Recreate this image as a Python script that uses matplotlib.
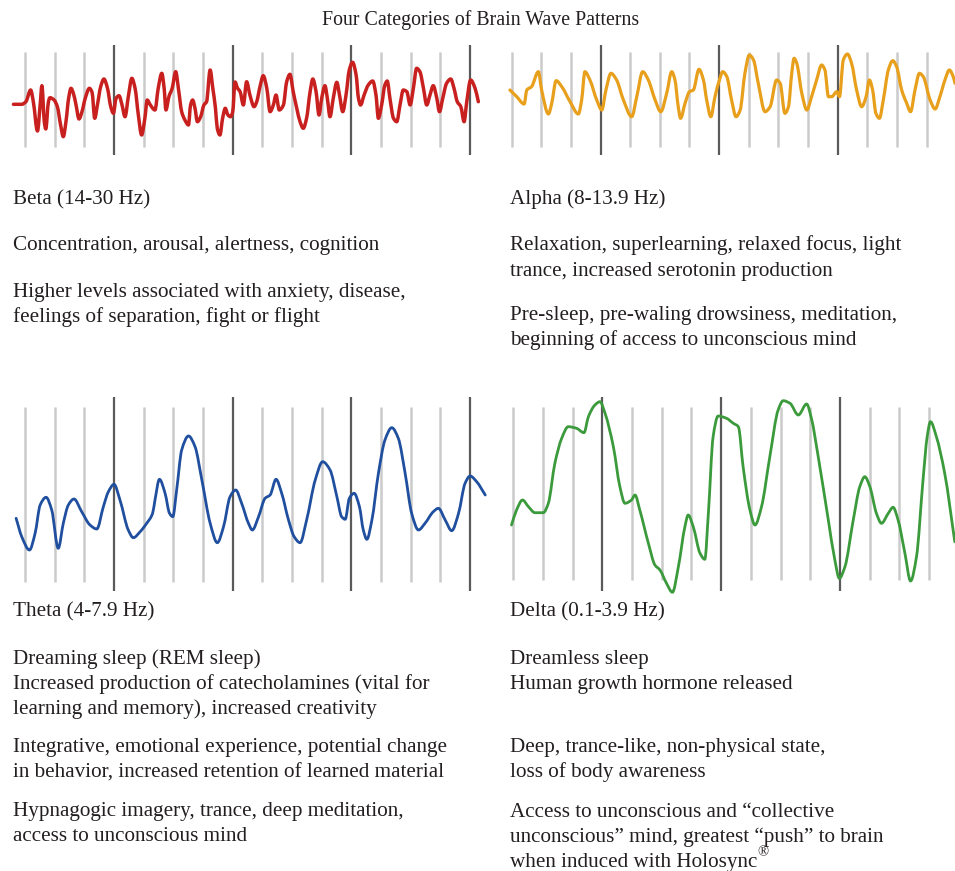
import matplotlib
matplotlib.use("Agg")
import matplotlib.pyplot as plt
from matplotlib.path import Path
from matplotlib.patches import PathPatch
import numpy as np

# ---------------- data (time in grid divisions, amplitude in arbitrary units) -------------
beta_t = [-0.39, -0.11, 0.03, 0.19, 0.28, 0.42, 0.51, 0.57, 0.65, 0.70, 0.79, 0.84, 0.98, 1.09,
          1.20, 1.29, 1.38, 1.47, 1.55, 1.63, 1.72, 1.82, 1.92, 2.03, 2.17, 2.26, 2.35, 2.44,
          2.55, 2.66, 2.78, 2.89, 2.98, 3.07, 3.17, 3.27, 3.37, 3.49, 3.60, 3.71, 3.82, 3.93,
          4.04, 4.12, 4.21, 4.38, 4.49, 4.61, 4.69, 4.75, 4.85, 4.96, 5.08, 5.17, 5.28, 5.39,
          5.51, 5.58, 5.65, 5.73, 5.81, 5.92, 6.03, 6.12, 6.24, 6.33, 6.42, 6.48, 6.57, 6.66,
          6.75, 6.84, 6.93, 7.00, 7.08, 7.16, 7.25, 7.36, 7.47, 7.58, 7.72, 7.81, 7.92, 8.03,
          8.15, 8.26, 8.37, 8.46, 8.57, 8.71, 8.82, 8.93, 9.04, 9.16, 9.27, 9.38, 9.49, 9.61,
          9.70, 9.81, 9.91, 10.00, 10.11, 10.19, 10.28, 10.39, 10.51, 10.60, 10.71, 10.82,
          10.93, 11.04, 11.16, 11.24, 11.31, 11.43, 11.57, 11.72, 11.83, 11.91, 12.02, 12.13,
          12.21, 12.30, 12.42, 12.53, 12.64, 12.75, 12.87, 12.98, 13.09, 13.20, 13.31, 13.43,
          13.54, 13.65, 13.76, 13.88, 13.97, 14.08, 14.21, 14.35, 14.46, 14.57, 14.69, 14.80,
          14.89, 15.02, 15.17, 15.28]
beta_v = [-4.3, -4.3, -1.7, 10, -1.7, -31, -5, 14.3, -21.7, -29, -1.7, 2.3, 0, -6.7,
          -25, -36.7, -21.7, 1.7, 11.7, 6.7, -5, -19, -11.7, 1.7, 11.7, 7.7, -18.3, -5,
          13.3, 21, 11.7, -6.7, -13.3, 1.7, 4.3, -5, -16.7, 5, 21.7, 11.7, -15, -35,
          -18.3, 0, -4.3, -10, 11.7, 26.7, 11.7, -10, 3.3, 11.7, 28.3, 11.7, -11.7, -20,
          -25, -5, 0, -8.3, -21.7, -16.7, -5, -1.7, 30, 11.7, -8.3, -28.3, -35, -18.3,
          -8.3, -15, -16.7, -12, 18, 12, 8.3, -5, 18.3, 5, -6.7, -1.7, 13.3, 24.3,
          11.7, -11.7, -5, 5, -10, -5, 18.3, 25.7, 8.3, -8.3, -21.7, -28.3, -18.3, 8.3,
          21, 8.3, -15, 1.7, 14.3, 1.7, -16.7, 1.7, 17.7, 5, -11.7, 5,
          30, 37.7, 25, 1.7, -5, 5, 15, 19, 5, -18.3, -5, 15,
          19, 1.7, -18.3, -21.7, -5, 10, 8.3, -5, 11.7, 31.7, 28.3, 11.7,
          -5, 5, 14.3, 1.7, -11.7, 1.7, 16.7, 21, 11.7, -1.7, -6.7, -21.7,
          -1.7, 20, 11.7, -1.7]

alpha_t = [-0.06, 0.17, 0.42, 0.51, 0.67, 0.90, 1.01, 1.24, 1.35, 1.50, 1.69, 1.97, 2.25, 2.36,
           2.47, 2.64, 2.87, 3.04, 3.18, 3.35, 3.54, 3.77, 4.05, 4.22, 4.42, 4.61, 4.84, 5.03,
           5.23, 5.40, 5.51, 5.62, 5.70, 5.85, 6.00, 6.13, 6.32, 6.47, 6.58, 6.72, 6.86, 7.01,
           7.12, 7.26, 7.42, 7.57, 7.71, 7.87, 8.02, 8.16, 8.32, 8.55, 8.72, 8.94, 9.06, 9.22,
           9.34, 9.45, 9.53, 9.62, 9.79, 9.96, 10.12, 10.29, 10.46, 10.57, 10.69, 10.80, 10.97,
           11.06, 11.19, 11.33, 11.47, 11.64, 11.81, 11.96, 12.07, 12.18, 12.29, 12.41, 12.54,
           12.71, 12.86, 12.99, 13.16, 13.33, 13.46, 13.61, 13.76, 13.89, 14.12, 14.29, 14.45,
           14.62, 14.77, 14.90, 14.96]
alpha_v = [10, 3.3, -4, 10, 13.3, 28.3, 10, -14, -3.3, 19.3, 13.3, -1.7, -14, 0,
           28.3, 20, 0, -10, 10, 26.7, 20, 0, -16.7, 3.3, 28.3, 20, 0, -11.7,
           6.7, 28.3, 20, -6.7, -18.3, -3.3, 8.3, 10, 30.7, 20, 0, -16.7, 3.3, 20,
           28.3, 23.3, 0, -16.7, -10, 26.7, 45, 40, 16.7, -11.7, -6.7, 20, 16.7, -13.3,
           -6.7, 26.7, 41.7, 36.7, 6.7, -10, 3.3, 20, 35, 30, 3.3, 3.3, 8.3,
           3.3, 40, 46, 36.7, 10, -6.7, 3.3, 20, 10, -13.3, -18.3, 0,
           30, 39.3, 33.3, 10, -3.3, -11.7, 10, 26.7, 23.3, 0, -9, 3.3,
           20, 30, 23.3, 16.7]

theta_t = [-0.30, -0.11, 0.15, 0.34, 0.51, 0.71, 0.90, 1.12, 1.29, 1.46, 1.65, 1.91, 2.19, 2.42,
           2.64, 2.81, 3.00, 3.20, 3.48, 3.65, 3.88, 4.10, 4.30, 4.38, 4.53, 4.72, 4.87, 4.98,
           5.11, 5.28, 5.51, 5.73, 5.96, 6.24, 6.48, 6.69, 6.91, 7.10, 7.30, 7.53, 7.66, 7.87,
           8.09, 8.26, 8.46, 8.65, 8.88, 9.07, 9.27, 9.49, 9.78, 10.03, 10.28, 10.51, 10.67,
           10.79, 10.93, 11.09, 11.27, 11.40, 11.52, 11.69, 11.91, 12.13, 12.36, 12.58, 12.81,
           13.03, 13.26, 13.48, 13.76, 13.93, 14.16, 14.38, 14.61, 14.83, 15.00, 15.22, 15.51]
theta_v = [-38.3, -56.7, -70, -53.3, -25, -17.3, -30, -68.3, -43.3, -25, -19, -31.7, -45, -49,
           -26.7, -11.7, -4.3, -20, -50, -57.7, -51.7, -43.3, -33.3, -20, 0.7, -13.3, -33.3, -36.7,
           -10, 30, 44, 33.3, 0, -43.3, -62.7, -46.7, -16.7, -10, -23.3, -43.3, -50, -36.7,
           -18.3, -15, 0.7, -13.3, -40, -56.7, -62.7, -40, 0, 18.3, 10, -16.7, -36.7,
           -39.3, -18.3, -13.3, -26.7, -50, -59.3, -40, 6.7, 40, 52.3, 41.7, 6.7,
           -33.3, -50, -43.3, -31.7, -28.3, -40, -50.7, -33.3, -3.3, 4, -1.7, -15]

delta_t = [-0.06, 0.11, 0.31, 0.51, 0.73, 1.01, 1.18, 1.40, 1.63, 1.85, 2.13, 2.38, 2.53, 2.75,
           2.92, 3.09, 3.37, 3.59, 3.76, 3.98, 4.10, 4.26, 4.55, 4.77, 4.94, 5.16, 5.36, 5.56,
           5.78, 5.89, 6.06, 6.29, 6.45, 6.57, 6.73, 6.90, 7.18, 7.41, 7.58, 7.74, 7.97, 8.14,
           8.36, 8.64, 8.92, 9.09, 9.32, 9.60, 9.88, 10.04, 10.27, 10.61, 10.83, 10.98, 11.17,
           11.45, 11.67, 11.84, 12.01, 12.23, 12.40, 12.63, 12.79, 12.96, 13.19, 13.38, 13.58,
           13.80, 13.94, 14.05, 14.25, 14.53, 14.87]
delta_v = [-45, -30, -20, -26.7, -32.7, -32.7, -23.3, 16.7, 41.7, 53.3, 51.7, 47.3, 63.3, 75,
           78.3, 66.7, 33.3, -6.7, -23.3, -20, -15, -30, -63.3, -85, -90, -103.3, -112.3, -86.7,
           -46.7, -35, -46.7, -73.3, -79.3, -33.3, 43.3, 64, 61.7, 56.7, 53.3, 13.3, -30, -45,
           -26.7, 23.3, 70, 79.3, 76.7, 65, 76, 61.7, 23.3, -40, -80, -98.3, -86.7,
           -40, -6.7, 3.3, -6.7, -33.3, -43.3, -33.3, -27.3, -40, -73.3, -101, -76.7,
           0, 43.3, 58.3, 43.3, 6.7, -61.7]

title = "Four Categories of Brain Wave Patterns"
band_names = ["Beta (14-30 Hz)", "Alpha (8-13.9 Hz)", "Theta (4-7.9 Hz)", "Delta (0.1-3.9 Hz)"]
beta_lines = ["Concentration, arousal, alertness, cognition",
              "Higher levels associated with anxiety, disease,",
              "feelings of separation, fight or flight"]
alpha_lines = ["Relaxation, superlearning, relaxed focus, light",
               "trance, increased serotonin production",
               "Pre-sleep, pre-waling drowsiness, meditation,",
               "beginning of access to unconscious mind"]
theta_lines = ["Dreaming sleep (REM sleep)",
               "Increased production of catecholamines (vital for",
               "learning and memory), increased creativity",
               "Integrative, emotional experience, potential change",
               "in behavior, increased retention of learned material",
               "Hypnagogic imagery, trance, deep meditation,",
               "access to unconscious mind"]
delta_lines = ["Dreamless sleep",
               "Human growth hormone released",
               "Deep, trance-like, non-physical state,",
               "loss of body awareness",
               "Access to unconscious and \u201ccollective",
               "unconscious\u201d mind, greatest \u201cpush\u201d to brain",
               "when induced with Holosync"]

# ---------------- figure ----------------
W, H = 955, 871
fig = plt.figure(figsize=(W / 100, H / 100), dpi=100)
fig.patch.set_facecolor("white")

FONT = ["Liberation Serif", "DejaVu Serif"]
TXT = "#231f20"


def px_axes(x0, x1, y0, y1):
    return fig.add_axes([x0 / W, 1 - y1 / H, (x1 - x0) / W, (y1 - y0) / H])


def smooth_path(t, v):
    """Smooth curve through the points (monotone cubic tangents, flat at extrema)."""
    t = np.asarray(t, float)
    v = np.asarray(v, float)
    h = np.diff(t)
    d = np.diff(v) / h
    m = np.empty_like(v)
    m[0], m[-1] = d[0], d[-1]
    for i in range(1, len(v) - 1):
        if d[i - 1] * d[i] <= 0:
            m[i] = 0.0
        else:
            w1 = 2 * h[i] + h[i - 1]
            w2 = h[i] + 2 * h[i - 1]
            m[i] = (w1 + w2) / (w1 / d[i - 1] + w2 / d[i])
    verts = [(t[0], v[0])]
    codes = [Path.MOVETO]
    for i in range(len(v) - 1):
        k = h[i] / 3
        verts += [(t[i] + k, v[i] + m[i] * k), (t[i + 1] - k, v[i + 1] - m[i + 1] * k),
                  (t[i + 1], v[i + 1])]
        codes += [Path.CURVE4] * 3
    return Path(verts, codes)


def panel(box, xlim, ylim, t, v, color, lw, nlines, light_ext, dark_ext):
    ax = px_axes(*box)
    ax.set_xlim(*xlim)
    ax.set_ylim(*ylim)
    ax.axis("off")
    idx = np.arange(nlines)
    dark = idx[(idx % 4) == 3]
    light = idx[(idx % 4) != 3]
    ax.vlines(light, light_ext[0], light_ext[1], color="#cbcbcb", lw=1.8, zorder=1)
    ax.vlines(dark, dark_ext[0], dark_ext[1], color="#5a5a5a", lw=1.6, zorder=1)
    ax.add_patch(PathPatch(smooth_path(t, v), fill=False, edgecolor=color, lw=lw,
                           capstyle="round", joinstyle="round", zorder=3))
    return ax


panel((0, 480, 40, 160), (-0.843, 15.336), (-60, 60), beta_t, beta_v, "#c8201f", 2.5,
      16, (-47.3, 48.3), (-55, 55))
panel((500, 955, 40, 160), (-0.395, 14.96), (-60, 60), alpha_t, alpha_v, "#e8a01c", 2.3,
      16, (-47.3, 48.3), (-55, 55))
panel((0, 490, 380, 600), (-0.843, 15.67), (-120, 100), theta_t, theta_v, "#1f4f9e", 2.0,
      16, (-101.7, 72.7), (-110.7, 82.7))
panel((500, 955, 380, 600), (-0.448, 14.877), (-120, 100), delta_t, delta_v, "#3b9a3b", 2.0,
      15, (-100, 72.7), (-110.7, 82.7))

BODY = 15.2


def ftext(x, y, s, size=BODY, **kw):
    return fig.text(x / W, 1 - y / H, s, fontsize=size, family=FONT, color=TXT,
                    va="baseline", **kw)


ftext(481, 25, title, size=14.3, ha="center")

ftext(13, 204.3, band_names[0])
for s, y in zip(beta_lines, [250, 296.7, 321.7]):
    ftext(13, y, s)

ftext(510, 204.3, band_names[1])
for s, y in zip(alpha_lines, [250, 276, 320, 345]):
    ftext(510, y, s)

ftext(13, 616.7, band_names[2])
for s, y in zip(theta_lines, [664, 689.3, 714, 752.3, 777.3, 816, 840.7]):
    ftext(13, y, s)

ftext(510, 616.7, band_names[3])
last = None
for s, y in zip(delta_lines, [664, 689, 752.3, 777.3, 816.7, 841.7, 866.7]):
    last = ftext(510, y, s)
plt.annotate("\u00ae", xy=(1.0, 1.0), xycoords=last, fontsize=10.5, family=FONT,
             color=TXT, ha="left", va="top", xytext=(0, 5), textcoords="offset points",
             annotation_clip=False)

fig.savefig("out.png", dpi=100, facecolor="white")
